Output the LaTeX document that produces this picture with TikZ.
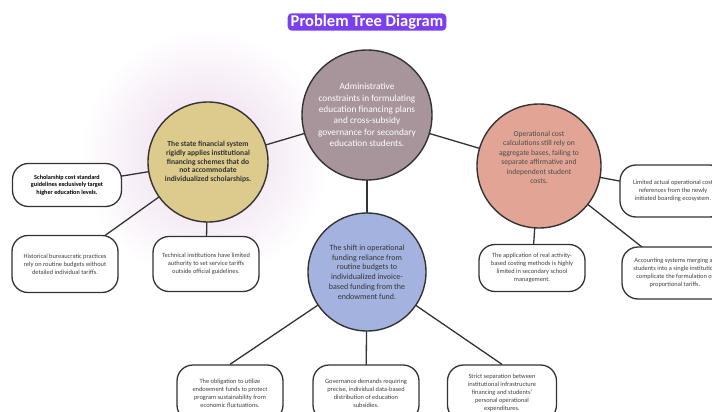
\documentclass[tikz,border=0pt]{standalone}
\usepackage{fontspec}
\setmainfont{Carlito}
\usetikzlibrary{backgrounds}
\definecolor{treepurple}{HTML}{7B3FF0}
\definecolor{treemauve}{HTML}{A8959B}
\definecolor{treesand}{HTML}{DCCB8D}
\definecolor{treesalmon}{HTML}{E2A595}
\definecolor{treeblue}{HTML}{A4B2E0}
\definecolor{treeline}{HTML}{333333}

\begin{document}
\begin{tikzpicture}[x=1pt,y=-1pt,
  bubble/.style={circle,draw=treeline,line width=1.4pt,align=center,inner sep=0pt},
  leaf/.style={draw=treeline,line width=1.3pt,fill=white,rounded corners=16pt,align=center,
    minimum width=106pt,minimum height=55pt,inner sep=2pt,font=\fontsize{6.4}{7.9}\selectfont,text=black!75},
  link/.style={draw=treeline,line width=1.3pt}]
\useasboundingbox (0,0) rectangle (712,412);
\clip (0,0) rectangle (712,412);
% title
\node[fill=treepurple,rounded corners=4pt,text=white,font=\bfseries\fontsize{16.5}{18}\selectfont,inner xsep=3pt,inner ysep=1.5pt] (title) at (367,22) {Problem Tree Diagram};
% circles
\node[bubble,fill=treemauve,minimum size=130pt,text=white,font=\fontsize{9.3}{11.4}\selectfont] (core) at (367,115) {Administrative\\constraints in formulating\\education financing plans\\and cross-subsidy\\governance for secondary\\education students.};
\node[bubble,fill=treesand,minimum size=120pt,text=black!80,font=\bfseries\fontsize{7.6}{8.9}\selectfont] (cause) at (208,162) {The state financial system\\rigidly applies institutional\\financing schemes that do\\not accommodate\\individualized scholarships.};
\node[bubble,fill=treesalmon,minimum size=124pt,text=black!70,font=\fontsize{7.6}{9.4}\selectfont] (cost) at (539,166) {Operational cost\\calculations still rely on\\aggregate bases, failing to\\separate affirmative and\\independent student\\costs.\\[8pt]};
\node[bubble,fill=treeblue,minimum size=118pt,text=black!80,font=\fontsize{8}{9.8}\selectfont] (shift) at (367,272) {The shift in operational\\funding reliance from\\routine budgets to\\individualized invoice-\\based funding from the\\endowment fund.};
% boxes
\node[leaf,minimum width=109pt,minimum height=43pt,font=\bfseries\fontsize{6.2}{7.6}\selectfont,text=black] (schol) at (67,185) {Scholarship cost standard\\guidelines exclusively target\\higher education levels.};
\node[leaf,minimum height=57pt] (hist) at (65,264) {Historical bureaucratic practices\\rely on routine budgets without\\detailed individual tariffs.};
\node[leaf] (tech) at (206,264) {Technical institutions have limited\\authority to set service tariffs\\outside official guidelines.};
\node[leaf,minimum height=47pt] (appl) at (532,268) {The application of real activity-\\based costing methods is highly\\limited in secondary school\\management.};
\node[leaf,minimum height=52pt] (limited) at (673,191) {Limited actual operational cost\\references from the newly\\initiated boarding ecosystem.};
\node[leaf,minimum height=52pt] (account) at (675,273) {Accounting systems merging all\\students into a single institution\\complicate the formulation of\\proportional tariffs.};
\node[leaf,minimum height=56pt] (oblig) at (230,393) {The obligation to utilize\\endowment funds to protect\\program sustainability from\\economic fluctuations.};
\node[leaf,minimum height=56pt] (gov) at (366,393) {Governance demands requiring\\precise, individual data-based\\distribution of education\\subsidies.};
\node[leaf,minimum width=109pt,minimum height=56pt] (strict) at (502,393) {Strict separation between\\institutional infrastructure\\financing and students'\\personal operational\\expenditures.};
% connectors and glow behind
\begin{pgfonlayer}{background}
\shade[inner color=violet!16,outer color=white] (205,155) circle (125pt);
\draw[link] (core.center) -- (cause.center);
\draw[link] (core.center) -- (cost.center);
\draw[link] (core.center) -- (shift.center);
\draw[link] (cause.center) -- (schol.center);
\draw[link] (cause.center) -- (hist.center);
\draw[link] (cause.center) -- (tech.center);
\draw[link] (cost.center) -- (appl.center);
\draw[link] (cost.center) -- (limited.center);
\draw[link] (cost.center) -- (account.center);
\draw[link] (shift.center) -- (oblig.north);
\draw[link] (shift.center) -- (gov.center);
\draw[link] (shift.center) -- (strict.north);
\end{pgfonlayer}
\end{tikzpicture}
\end{document}
